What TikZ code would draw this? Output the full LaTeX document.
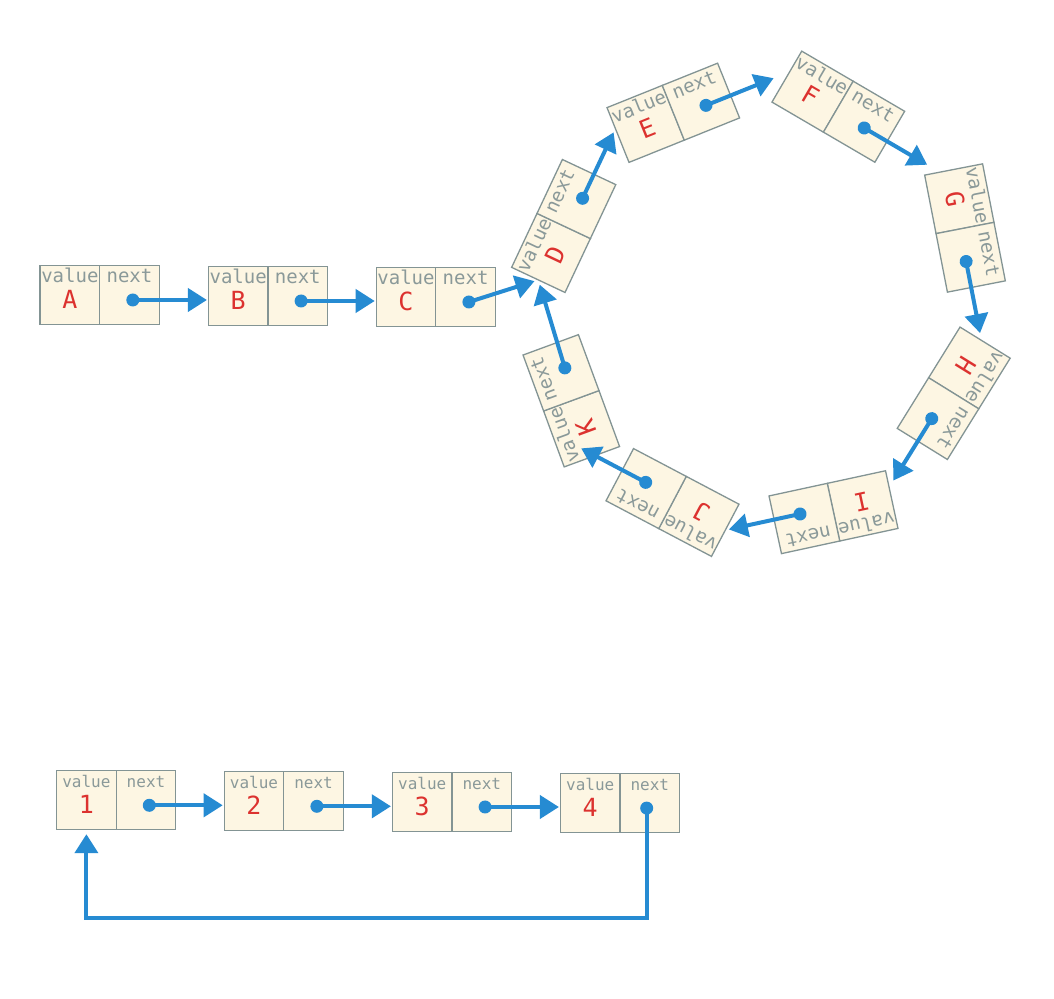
\documentclass[tikz,border=0pt]{standalone}
\usepackage{fontspec}
\setmonofont{DejaVu Sans Mono}
\usetikzlibrary{arrows.meta}
\definecolor{creamc}{HTML}{FDF6E3}
\definecolor{bordc}{HTML}{839494}
\definecolor{textc}{HTML}{8A9999}
\definecolor{redc}{HTML}{DC322F}
\definecolor{bluec}{HTML}{268BD2}
\tikzset{
  cell/.style={draw=bordc, fill=creamc, line width=1.3pt, minimum width=59.6pt,
    minimum height=59pt, inner sep=0pt, outer sep=0pt},
  lbl/.style={text=textc, inner sep=0pt, anchor=base},
  val/.style={text=redc, inner sep=0pt, anchor=base, font=\ttfamily\fontsize{25}{25}\selectfont},
  arr/.style={draw=bluec, line width=4pt, -{Triangle[length=19pt,width=23pt]}},
}
\newcommand{\lnode}[7][33.1]{%
  \begin{scope}[shift={(#3,#4)},rotate=#5,transform shape]
    \node[cell] (#2v) at (-29.8,0) {};
    \node[cell] (#2n) at (29.8,0) {};
    \node[lbl] at (-29.8,12) {\ttfamily\fontsize{#7}{#7}\selectfont value};
    \node[lbl] at (29.8,12) {\ttfamily\fontsize{#7}{#7}\selectfont next};
    \node[val] at (-29.8,-13.5) {#6};
    \coordinate (#2dot) at (#1,-5.3);
    \coordinate (#2tip) at (106,-5.3);
    \fill[bluec] (#2dot) circle (6.5);
  \end{scope}}
\begin{document}
\begin{tikzpicture}[x=1pt,y=1pt]
\fill[white] (0,0) rectangle (1054,998);
\useasboundingbox (0,0) rectangle (1054,998);
% straight row
\lnode{A}{99.7}{703.3}{0}{A}{19}
\lnode{B}{268}{702.3}{0}{B}{19}
\lnode{C}{435.8}{701.3}{0}{C}{19}
% ring
\lnode{D}{563.7}{772}{64.8}{D}{19}
\lnode{E}{673.3}{885.2}{21.9}{E}{19}
\lnode{F}{838.3}{891.3}{-30.3}{F}{19}
\lnode{G}{965}{770}{-79}{G}{19}
\lnode{H}{953.7}{604.7}{-121.8}{H}{19}
\lnode{I}{833.5}{485.8}{-167.8}{I}{19}
\lnode{J}{672.5}{495.5}{-207.8}{J}{19}
\lnode{K}{571.3}{597.2}{-249.8}{K}{19}
% bottom row
\lnode{P}{116.2}{198}{0}{1}{16}
\lnode{Q}{283.8}{197}{0}{2}{16}
\lnode{R}{452}{196.3}{0}{3}{16}
\lnode[26.7]{S}{620}{195.2}{0}{4}{16}
% arrows
\draw[arr, shorten >=1.5pt] (Adot) -- (Adot -| Bv.west);
\draw[arr, shorten >=1.5pt] (Bdot) -- (Bdot -| Cv.west);
\draw[arr, shorten >=4pt] (Cdot) -- (Dv.west);
\draw[arr] (Ddot) -- (Dtip);
\draw[arr] (Edot) -- (Etip);
\draw[arr] (Fdot) -- (Ftip);
\draw[arr] (Gdot) -- (Gtip);
\draw[arr] (Hdot) -- (Htip);
\draw[arr] (Idot) -- (Itip);
\draw[arr] (Jdot) -- (Jtip);
\draw[arr, shorten >=5pt] (Kdot) -- (Dv.west);
\draw[arr, shorten >=1.5pt] (Pdot) -- (Pdot -| Qv.west);
\draw[arr, shorten >=1.5pt] (Qdot) -- (Qdot -| Rv.west);
\draw[arr, shorten >=1.5pt] (Rdot) -- (Rdot -| Sv.west);
\coordinate (loopy) at (0,79.7);
\draw[arr, shorten >=4.7pt] (Sdot) |- (Pv.south |- loopy) -- (Pv.south);
\end{tikzpicture}
\end{document}
